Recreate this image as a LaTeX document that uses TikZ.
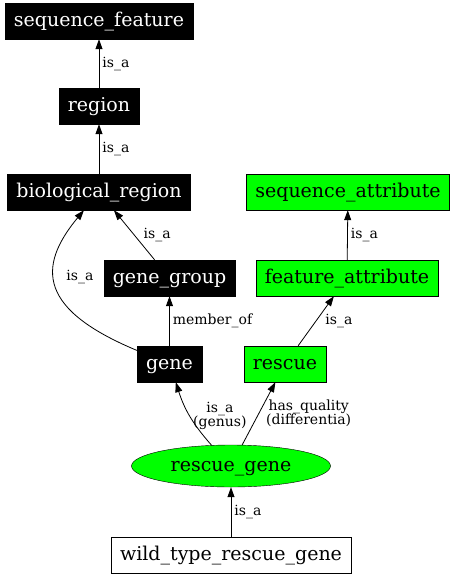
\documentclass[tikz,border=0pt]{standalone}
\usepackage{fontspec}
\setmainfont{DejaVu Serif}
\usetikzlibrary{positioning}
\usetikzlibrary{shapes.geometric, arrows.meta}
\definecolor{attrgreen}{RGB}{0,255,0}

\begin{document}
\begin{tikzpicture}[x=1pt, y=-1pt]
    \tikzset{
    term/.style=
    {
        rectangle,
        draw,
        fill=black,
        text=white,
        font=\fontsize{19}{22}\selectfont,
        text height = 14pt,
        text depth = 4pt,
        minimum height = 36pt,
        inner xsep = 9pt
    },
    attr/.style=
    {
        term,
        fill=attrgreen,
        text=black
    },
    leaf/.style=
    {
        term,
        fill=white,
        text=black
    },
    link/.style=
    {
        line width=0.8pt,
        -{Triangle[length=10pt, width=7pt]}
    },
    rel/.style=
    {
        font=\fontsize{14}{14}\selectfont,
        inner sep=1pt,
        align=center
    }
}

  \useasboundingbox (0,0) rectangle (455,576);

  \node[term] (seqfeat) at (99,21) {sequence\_feature};
  \node[term] (region) at (99,106) {region};
  \node[term] (bioreg) at (99,192) {biological\_region};
  \node[term] (genegroup) at (169.5,278) {gene\_group};
  \node[term] (gene) at (169.5,364) {gene};
  \node[attr] (seqattr) at (348,192) {sequence\_attribute};
  \node[attr] (featattr) at (347,278) {feature\_attribute};
  \node[attr] (rescue) at (285,364) {rescue};
  \node[attr, ellipse, minimum width=199pt, minimum height=42pt, inner sep=0pt] (rescgene) at (231,466) {rescue\_gene};
  \node[leaf] (wildtype) at (231,555) {wild\_type\_rescue\_gene};

  \draw[link] (region) -- node[rel, right=2pt] {is\_a} (seqfeat);
  \draw[link] (bioreg) -- node[rel, right=2pt] {is\_a} (region);
  \draw[link] (genegroup) -- node[rel, right=8pt] {is\_a} (bioreg);
  \draw[link] (gene) .. controls (40,310) and (36,268) .. (bioreg) node[rel] at (80,277) {is\_a};
  \draw[link] (gene) -- node[rel, right=2pt] {member\_of} (genegroup);
  \draw[link] (featattr) -- node[rel, right=2pt] {is\_a} (seqattr);
  \draw[link] (rescue) -- node[rel, right=8pt] {is\_a} (featattr);
  \draw[link] (rescgene) to[bend left=12] node[rel, right=2pt] {is\_a\\(genus)} (gene);
  \draw[link] (rescgene) -- node[rel, right=6pt] {has\_quality\\(differentia)} (rescue);
  \draw[link] (wildtype) -- node[rel, right=2pt] {is\_a} (rescgene);

\end{tikzpicture}
\end{document}
